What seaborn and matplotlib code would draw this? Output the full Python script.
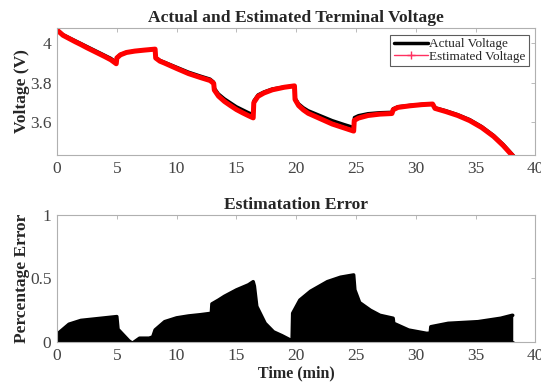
import matplotlib
matplotlib.use("Agg")
import matplotlib.pyplot as plt
from matplotlib.lines import Line2D
import seaborn as sns
import pandas as pd

# Terminal voltage (V) sampled at the listed times (min)
time_v = [0, 0.5, 1, 1.5, 2, 2.5, 3, 3.5, 4, 4.5, 4.95, 5.0, 5.3, 5.8, 6.5, 7.3, 8.2,
          8.25, 8.6, 9, 10, 11, 12, 12.8, 13.1, 13.15, 13.5, 14, 14.5, 15, 15.5, 16,
          16.4, 16.45, 16.8, 17.3, 18, 19, 19.85, 19.9, 20.2, 20.6, 21, 22, 23, 24,
          24.8, 24.85, 25.2, 26, 27, 28, 28.1, 28.5, 29.5, 30.5, 31.4, 31.6, 32.5,
          33.5, 34.5, 35.5, 36.5, 37.3, 38.2]
actual_v = [4.07, 4.045, 4.03, 4.015, 4.0, 3.985, 3.97, 3.955, 3.94, 3.925, 3.905,
            3.93, 3.945, 3.955, 3.962, 3.967, 3.972, 3.93, 3.915, 3.905, 3.88, 3.855,
            3.835, 3.82, 3.805, 3.775, 3.745, 3.72, 3.70, 3.68, 3.665, 3.65, 3.64,
            3.71, 3.74, 3.755, 3.77, 3.78, 3.785, 3.725, 3.695, 3.675, 3.66, 3.635,
            3.61, 3.59, 3.575, 3.625, 3.635, 3.645, 3.65, 3.652, 3.67, 3.68, 3.687,
            3.692, 3.695, 3.675, 3.66, 3.64, 3.615, 3.58, 3.535, 3.49, 3.43]
estimated_v = [4.068, 4.041, 4.025, 4.009, 3.994, 3.978, 3.963, 3.948, 3.933, 3.917,
               3.897, 3.926, 3.942, 3.954, 3.961, 3.966, 3.971, 3.926, 3.910, 3.900,
               3.873, 3.847, 3.827, 3.812, 3.797, 3.764, 3.733, 3.706, 3.685, 3.665,
               3.649, 3.634, 3.623, 3.700, 3.732, 3.749, 3.765, 3.778, 3.785, 3.716,
               3.685, 3.663, 3.646, 3.619, 3.592, 3.572, 3.556, 3.610, 3.622, 3.635,
               3.642, 3.645, 3.664, 3.676, 3.684, 3.690, 3.693, 3.671, 3.655, 3.635,
               3.609, 3.574, 3.529, 3.483, 3.423]

# Percentage estimation error
time_e = [0, 0.5, 1, 2, 3, 4, 5.0, 5.1, 5.5, 6.0, 6.3, 6.9, 7.7, 8.0, 8.2, 9, 10,
          11, 12, 12.9, 12.95, 13.5, 14, 15, 16, 16.4, 16.5, 16.7, 17.4, 18.1, 18.8,
          19.5, 19.65, 19.7, 20.3, 21.2, 22.6, 23.7, 24.8, 24.9, 25.3, 26.2, 27, 28.1,
          28.15, 29.4, 30.9, 31.2, 31.25, 32.7, 35.2, 37.1, 38.05, 38.1]
error_pct = [0.06, 0.10, 0.14, 0.17, 0.18, 0.19, 0.20, 0.10, 0.06, 0.01, -0.01, 0.03,
             0.03, 0.04, 0.095, 0.16, 0.19, 0.205, 0.215, 0.226, 0.30, 0.33, 0.36,
             0.41, 0.45, 0.475, 0.44, 0.28, 0.147, 0.08, 0.05, 0.016, 0.0, 0.226,
             0.33, 0.40, 0.475, 0.51, 0.528, 0.41, 0.31, 0.25, 0.21, 0.187, 0.147,
             0.094, 0.068, 0.07, 0.12, 0.147, 0.16, 0.187, 0.21, 0.21]

x_ticks = [0, 5, 10, 15, 20, 25, 30, 35, 40]
v_ticks = [3.6, 3.8, 4.0]
v_tick_labels = ["3.6", "3.8", "4"]
e_ticks = [0, 0.5, 1]
e_tick_labels = ["0", "0.5", "1"]

sns.set_style("white")
plt.rcParams["font.family"] = ["Liberation Serif", "DejaVu Serif"]

volt = pd.DataFrame({"t": time_v, "actual": actual_v, "estimated": estimated_v})
err = pd.DataFrame({"t": time_e, "err": error_pct})

fig = plt.figure(figsize=(5.41, 3.92), dpi=100)
ax1 = fig.add_axes([0.1054, 0.6046, 0.8844, 0.324])
ax2 = fig.add_axes([0.1054, 0.1276, 0.8844, 0.324])

sns.lineplot(data=volt, x="t", y="actual", ax=ax1, color="black", lw=2.2,
             sort=False, estimator=None)
sns.lineplot(data=volt, x="t", y="estimated", ax=ax1, color="#ff0000", lw=3.6,
             sort=False, estimator=None)

ax2.fill_between(err["t"], 0, err["err"], color="black", lw=0)
sns.lineplot(data=err, x="t", y="err", ax=ax2, color="black", lw=2.5,
             sort=False, estimator=None)
ax2.plot([0, time_e[-1]], [0, 0], color="black", lw=2)

tick_col = "#444444"
for ax in (ax1, ax2):
    ax.set_xlim(0, 40)
    ax.set_xticks(x_ticks)
    ax.set_xticklabels([str(v) for v in x_ticks])
    for sp in ax.spines.values():
        sp.set_color("#b0b0b0")
        sp.set_linewidth(0.8)
    ax.tick_params(direction="in", length=3, width=0.6, color="#b0b0b0",
                   top=True, right=True, labelsize=12.5, labelcolor=tick_col, pad=4)
    ax.set_xlabel("")

ax1.set_ylim(3.435, 4.078)
ax1.set_yticks(v_ticks)
ax1.set_yticklabels(v_tick_labels)
ax1.set_ylabel("Voltage (V)", fontsize=12.5, fontweight="bold", labelpad=0)
ax1.set_title("Actual and Estimated Terminal Voltage", fontsize=12.6,
              fontweight="bold", pad=4)

handles = [Line2D([], [], color="black", lw=2.5),
           Line2D([], [], color="#ff3060", lw=1, marker="+", markersize=6)]
leg = ax1.legend(handles, ["Actual Voltage", "Estimated Voltage"], loc="upper right",
                 fontsize=9.5, frameon=True, fancybox=False, borderpad=0.25,
                 handlelength=2.6, handletextpad=0.1, labelspacing=0.05,
                 borderaxespad=0.5)
leg.get_frame().set_edgecolor("#333333")
leg.get_frame().set_linewidth(0.8)

ax2.set_ylim(0, 1)
ax2.set_yticks(e_ticks)
ax2.set_yticklabels(e_tick_labels)
ax2.set_ylabel("Percentage Error", fontsize=12.5, fontweight="bold", labelpad=0)
ax2.set_xlabel("Time (min)", fontsize=11.5, fontweight="bold", labelpad=1)
ax2.set_title("Estimatation Error", fontsize=12.6, fontweight="bold", pad=4)

fig.savefig("out.png", dpi=100)
